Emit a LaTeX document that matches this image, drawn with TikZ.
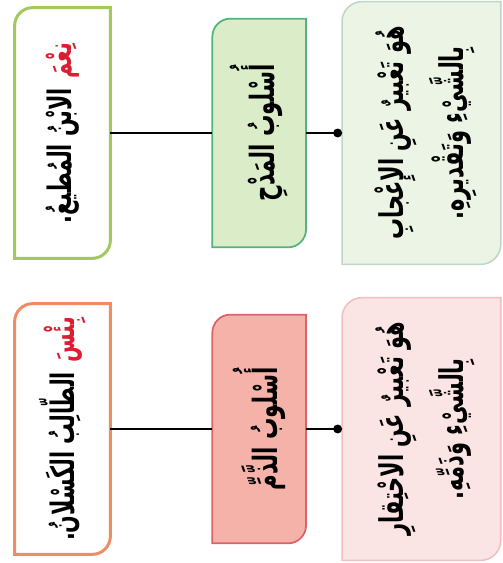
\documentclass[tikz,border=0pt]{standalone}
\usepackage{fontspec}
\newfontfamily\arabicfont[Script=Arabic,FakeStretch=0.64]{DejaVu Sans}
\TeXXeTstate=1
\usetikzlibrary{arrows.meta,positioning,backgrounds}

\definecolor{exgreen}{RGB}{163,200,95}
\definecolor{stylegreenline}{RGB}{85,178,125}
\definecolor{stylegreenfill}{RGB}{218,236,200}
\definecolor{defgreenline}{RGB}{190,215,198}
\definecolor{defgreenfill}{RGB}{236,245,229}
\definecolor{exorange}{RGB}{238,140,102}
\definecolor{styleredline}{RGB}{222,98,108}
\definecolor{styleredfill}{RGB}{245,178,168}
\definecolor{defredline}{RGB}{240,192,192}
\definecolor{defredfill}{RGB}{251,228,228}
\definecolor{wordred}{RGB}{220,30,50}

\newcommand{\rtlline}[1]{\beginR #1\endR}

\begin{document}
\begin{tikzpicture}[
  exbox/.style={minimum width=19mm, minimum height=50mm, inner sep=0pt,
                font=\arabicfont\bfseries\fontsize{18.4}{30}\selectfont},
  stylebox/.style={minimum width=18.6mm, minimum height=45.6mm, inner sep=0pt,
                font=\arabicfont\bfseries\fontsize{19}{30}\selectfont},
  defbox/.style={minimum width=31.6mm, minimum height=52.4mm, inner sep=0pt,
                font=\arabicfont\bfseries\fontsize{18.6}{34.6}\selectfont},
  link/.style={line width=0.9pt},
]
  \useasboundingbox (0,0) rectangle (10.04,11.26);

  % Praise row
  \node[exbox] (ex1) at (1.25,8.6)
    {\rotatebox{90}{\rtlline{الابْنُ المُطيعُ.}
      \textcolor{wordred}{\rtlline{نِعْمَ}}}};
  \node[stylebox, right=2.04cm of ex1] (style1)
    {\rotatebox{90}{\rtlline{أُسْلوبُ المَدْحِ}}};
  \node[defbox, right=0.72cm of style1] (def1)
    {\rotatebox{90}{\begin{tabular}{@{}c@{}}
      \rtlline{هُوَ تَعْبيرٌ عَنِ الإِعْجابِ}\\
      \rtlline{بِالشَّيْءِ وَتَقْديرِهِ.}
    \end{tabular}}};

  % Blame row
  \node[exbox] (ex2) at (1.25,2.68)
    {\rotatebox{90}{\rtlline{الطّالِبُ الكَسْلانُ.}
      \textcolor{wordred}{\rtlline{بِئْسَ}}}};
  \node[stylebox, right=2.04cm of ex2] (style2)
    {\rotatebox{90}{\rtlline{أُسْلوبُ الذَّمِّ}}};
  \node[defbox, right=0.72cm of style2] (def2)
    {\rotatebox{90}{\begin{tabular}{@{}c@{}}
      \rtlline{هُوَ تَعْبيرٌ عَنِ الاحْتِقارِ}\\
      \rtlline{بِالشَّيْءِ وَذَمِّهِ.}
    \end{tabular}}};

  % Frames: rounded top-left and bottom-right corners only
  \begin{scope}[on background layer]
    \foreach \n/\dc/\fc/\lw/\r in {
        ex1/exgreen/white/1.7pt/0.36cm,
        style1/stylegreenline/stylegreenfill/1pt/0.36cm,
        def1/defgreenline/defgreenfill/0.9pt/0.4cm,
        ex2/exorange/white/1.7pt/0.36cm,
        style2/styleredline/styleredfill/1pt/0.36cm,
        def2/defredline/defredfill/0.9pt/0.4cm}
      \draw[draw=\dc, fill=\fc, line width=\lw]
        (\n.north east) -- ([xshift=\r]\n.north west)
        arc[start angle=90, end angle=180, radius=\r]
        -- (\n.south west) -- ([xshift=-\r]\n.south east)
        arc[start angle=-90, end angle=0, radius=\r] -- cycle;
  \end{scope}

  \draw[link] (ex1) -- (style1);
  \draw[link, -{Circle[length=5pt]}] (style1) -- (def1.west);
  \draw[link] (ex2) -- (style2);
  \draw[link, -{Circle[length=5pt]}] (style2) -- (def2.west);
\end{tikzpicture}
\end{document}
